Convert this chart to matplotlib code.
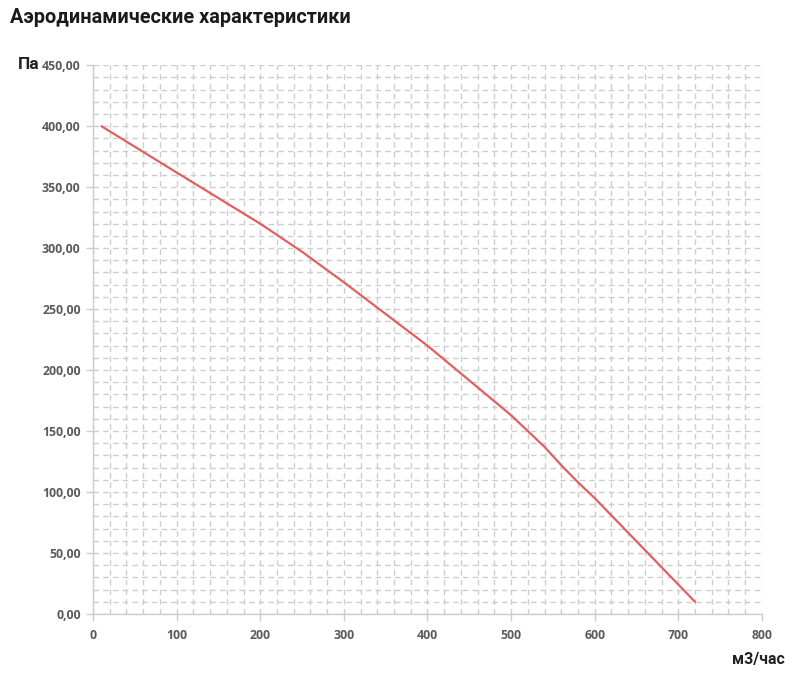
import matplotlib
matplotlib.use("Agg")
import matplotlib.pyplot as plt
import numpy as np
from matplotlib.ticker import MultipleLocator, FuncFormatter

flow = [10, 100, 200, 250, 300, 400, 500, 520, 540, 560, 580, 600, 720]
pressure = [400, 362, 320, 297, 272, 220, 163, 150, 137, 122, 108, 95, 10]

x_major = [0, 100, 200, 300, 400, 500, 600, 700, 800]
y_major = [0, 50, 100, 150, 200, 250, 300, 350, 400, 450]

fig = plt.figure(figsize=(8.02, 6.86), dpi=100)
ax = fig.add_axes([0.116, 0.105, 0.834, 0.800])

ax.plot(flow, pressure, color="#e35f5f", lw=1.6, solid_capstyle="round",
        solid_joinstyle="round", zorder=3)

ax.set_xlim(0, 800)
ax.set_ylim(0, 450)
ax.set_xticks(x_major)
ax.set_yticks(y_major)
ax.xaxis.set_minor_locator(MultipleLocator(20))
ax.yaxis.set_minor_locator(MultipleLocator(10))
ax.grid(which="both", color="#cdcdd0", lw=1.0, ls=(0, (4, 3)))
ax.set_axisbelow(True)

ax.yaxis.set_major_formatter(FuncFormatter(lambda v, p: f"{v:.2f}".replace(".", ",")))
ax.xaxis.set_major_formatter(FuncFormatter(lambda v, p: f"{int(v)}"))

for s in ["top", "right"]:
    ax.spines[s].set_visible(False)
for s in ["left", "bottom"]:
    ax.spines[s].set_color("#cccccc")
    ax.spines[s].set_linewidth(1.0)

ax.tick_params(axis="both", which="major", colors="#cccccc", labelcolor="#5a5a5a",
               labelsize=8.8, length=5, width=1)
ax.tick_params(axis="x", which="major", pad=6)
ax.tick_params(axis="y", which="major", pad=4)
ax.tick_params(axis="both", which="minor", length=0)
for lab in ax.get_xticklabels() + ax.get_yticklabels():
    lab.set_fontweight("bold")
    lab.set_family("Open Sans")

fig.text(0.012, 0.975, "Аэродинамические характеристики", fontsize=14.3,
         fontweight="bold", family="Roboto", color="#1a1a1a", ha="left", va="center")
fig.text(0.022, 0.906, "Па", fontsize=12.5, fontweight="bold", family="Roboto",
         color="#222222", ha="left", va="center")
fig.text(0.978, 0.038, "м3/час", fontsize=11.5, fontweight="bold", family="Roboto",
         color="#222222", ha="right", va="center")

fig.savefig("out.png", dpi=100)
